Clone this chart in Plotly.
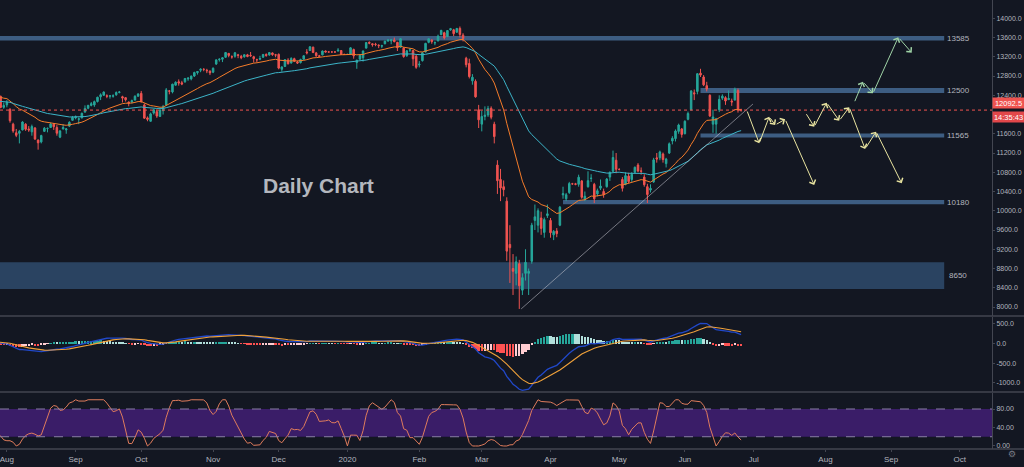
import pandas as pd
import plotly.graph_objects as go

# GER30 daily candles, one per weekday, 29 Jul 2019 .. 25 Jun 2020
opens = [
    12420, 12380, 12150,
    # Aug 2019
    12200, 12110, 11800, 11620, 11610, 11680, 11800, 11700, 11640, 11720, 11470,
    11430, 11650, 11710, 11730, 11800, 11730, 11530, 11700, 11680, 11760, 11880,
    # Sep
    11930, 11900, 11930, 12050, 12130, 12190, 12200, 12270, 12370, 12400, 12390,
    12380, 12380, 12410, 12460, 12370, 12350, 12260, 12260, 12300, 12380,
    # Oct
    12440, 12200, 11930, 11860, 12030, 12060, 11960, 12080, 12200, 12490, 12470,
    12610, 12680, 12660, 12680, 12740, 12740, 12800, 12870, 12920, 12940, 12920, 12900,
    # Nov
    12880, 13050, 13140, 13150, 13190, 13270, 13200, 13210, 13240, 13210, 13200,
    13240, 13230, 13200, 13140, 13150, 13190, 13250, 13240, 13280, 13240,
    # Dec
    13250, 12940, 13000, 13130, 13070, 13160, 13090, 13080, 13150, 13300, 13330,
    13400, 13280, 13220, 13240, 13320, 13300, 13300, 13300, 13320, 13330, 13250,
    # Jan 2020
    13250, 13250, 13350, 13080, 13150, 13180, 13380, 13500, 13470, 13460, 13440,
    13420, 13470, 13530, 13530, 13550, 13500, 13400, 13380, 13220, 13340, 13330, 13210,
    # Feb
    13030, 13120, 13300, 13500, 13550, 13490, 13530, 13660, 13700, 13620, 13760,
    13760, 13710, 13790, 13650, 13170, 13060, 12700, 12690, 12100,
    # Mar
    11800, 11960, 11990, 12130, 11800, 10950, 10650, 10500, 10200, 9300, 8800,
    8700, 8900, 8350, 8700, 8700, 8950, 9800, 9700, 9850, 9550, 9900,
    # Apr
    9800, 9500, 9580, 9700, 10330, 10250, 10380, 10560, 10560, 10550, 10620,
    10240, 10500, 10670, 10550, 10350, 10470, 10400, 10500, 10700, 10820, 11050,
    # May
    10860, 10650, 10550, 10720, 10650, 10800, 10950, 10830, 10700, 10500, 10430,
    10600, 11100, 11100, 11180, 10980, 11200, 11450, 11500, 11650, 11700,
    # Jun
    11600, 11900, 12100, 12450, 12480, 12860, 12780, 12600, 12400, 11800, 11800,
    12100, 12340, 12350, 12310, 12280, 12300, 12500, 12095,
]
highs = [
    12440, 12390, 12250,
    12300, 12130, 11830, 11700, 11680, 11860, 11820, 11760, 11790, 11740, 11480,
    11580, 11740, 11730, 11830, 11820, 11780, 11680, 11800, 11720, 11860, 11970,
    11980, 11940, 12040, 12190, 12200, 12260, 12290, 12370, 12440, 12480, 12420,
    12400, 12420, 12480, 12490, 12390, 12360, 12270, 12310, 12400, 12440,
    12490, 12230, 11960, 12040, 12120, 12100, 12110, 12200, 12550, 12510, 12640,
    12690, 12730, 12700, 12760, 12780, 12810, 12890, 12900, 12960, 12960, 12950, 12920,
    12980, 13140, 13170, 13190, 13300, 13280, 13230, 13300, 13260, 13240, 13250,
    13260, 13300, 13220, 13160, 13220, 13260, 13270, 13300, 13290, 13260,
    13270, 13000, 13150, 13170, 13190, 13180, 13120, 13160, 13230, 13360, 13420,
    13410, 13300, 13240, 13330, 13330, 13310, 13305, 13310, 13380, 13340, 13260,
    13260, 13400, 13370, 13140, 13250, 13330, 13500, 13520, 13480, 13490, 13460,
    13450, 13530, 13560, 13560, 13600, 13510, 13590, 13400, 13340, 13380, 13340, 13250,
    13110, 13300, 13490, 13580, 13560, 13520, 13660, 13760, 13720, 13750, 13800,
    13780, 13800, 13830, 13690, 13200, 13160, 12840, 12730, 12200,
    12080, 12170, 12180, 12170, 11850, 11050, 10870, 10630, 10280, 9700, 9100,
    9050, 8980, 8700, 9200, 8800, 9750, 10130, 10050, 9980, 9860, 10130,
    9850, 9600, 9640, 10100, 10500, 10370, 10600, 10580, 10580, 10750, 10640,
    10400, 10820, 10760, 10580, 10460, 10650, 10460, 10680, 10820, 11250, 11200,
    10880, 10700, 10800, 10790, 10800, 10920, 10990, 10900, 10760, 10560, 10550,
    11100, 11200, 11250, 11210, 11100, 11420, 11550, 11690, 11810, 11720,
    11880, 12060, 12510, 12520, 12860, 12950, 12820, 12680, 12420, 12100, 11930,
    12400, 12420, 12380, 12500, 12330, 12560, 12540, 12120,
]
lows = [
    12360, 12130, 12120,
    12150, 11830, 11620, 11530, 11400, 11670, 11660, 11640, 11560, 11470, 11270,
    11400, 11640, 11630, 11720, 11680, 11560, 11510, 11690, 11600, 11740, 11870,
    11900, 11800, 11920, 12040, 12110, 12170, 12160, 12250, 12300, 12390, 12340,
    12330, 12350, 12390, 12440, 12250, 12270, 12170, 12230, 12290, 12370,
    12250, 11910, 11860, 11850, 12000, 11930, 11950, 12000, 12190, 12420, 12440,
    12600, 12600, 12610, 12660, 12700, 12710, 12780, 12830, 12880, 12900, 12860, 12820,
    12860, 13030, 13100, 13090, 13180, 13190, 13160, 13180, 13170, 13150, 13180,
    13190, 13200, 13080, 13080, 13130, 13180, 13200, 13220, 13220, 13190,
    12940, 12890, 12990, 13040, 13060, 13090, 13050, 13060, 13140, 13250, 13320,
    13280, 13200, 13190, 13230, 13290, 13290, 13295, 13290, 13310, 13240, 13240,
    13240, 13240, 13160, 12950, 13140, 13100, 13370, 13460, 13410, 13420, 13380,
    13380, 13460, 13510, 13460, 13500, 13320, 13390, 13180, 13200, 13300, 13010, 12950,
    12980, 13100, 13290, 13480, 13470, 13440, 13520, 13650, 13560, 13610, 13740,
    13630, 13700, 13600, 13520, 12980, 12750, 12620, 12350, 11720,
    11650, 11880, 11950, 11900, 11400, 10350, 10200, 10300, 8960, 8500, 8250,
    8450, 7960, 8250, 8550, 8250, 8900, 9600, 9550, 9500, 9440, 9850,
    9440, 9390, 9450, 9680, 10250, 10200, 10350, 10540, 10530, 10500, 10250,
    10200, 10480, 10600, 10160, 10300, 10430, 10270, 10480, 10620, 10800, 10780,
    10840, 10400, 10530, 10570, 10600, 10780, 10800, 10750, 10500, 10160, 10380,
    10580, 11000, 11050, 11000, 10900, 11180, 11380, 11440, 11600, 11520,
    11590, 11880, 12080, 12300, 12420, 12780, 12590, 12480, 11950, 11620, 11600,
    12050, 12300, 12200, 12300, 12180, 12290, 12040, 12060,
]
closes = [
    12386, 12147, 12189,
    12253, 11872, 11658, 11568, 11650, 11845, 11694, 11679, 11750, 11492, 11412,
    11563, 11715, 11712, 11802, 11747, 11612, 11658, 11731, 11701, 11838, 11939,
    11953, 11910, 12025, 12126, 12191, 12226, 12268, 12359, 12410, 12468, 12380,
    12389, 12389, 12457, 12468, 12342, 12307, 12234, 12288, 12380, 12428,
    12263, 11925, 11900, 12013, 12097, 11970, 12094, 12164, 12512, 12486, 12630,
    12670, 12654, 12633, 12748, 12754, 12798, 12872, 12894, 12941, 12939, 12910, 12867,
    12961, 13136, 13148, 13179, 13289, 13228, 13198, 13283, 13230, 13180, 13242,
    13207, 13221, 13161, 13137, 13164, 13247, 13227, 13287, 13245, 13236,
    12965, 12989, 13140, 13055, 13166, 13105, 13071, 13141, 13221, 13282, 13407,
    13287, 13222, 13211, 13319, 13300, 13300, 13300, 13300, 13337, 13249, 13249,
    13250, 13386, 13219, 13127, 13227, 13320, 13495, 13483, 13452, 13456, 13432,
    13430, 13526, 13549, 13555, 13515, 13389, 13577, 13205, 13324, 13345, 13158, 12982,
    13046, 13282, 13479, 13575, 13514, 13494, 13628, 13749, 13595, 13745, 13784,
    13681, 13789, 13665, 13579, 13035, 12790, 12775, 12367, 11890,
    11960, 11986, 12127, 11944, 11542, 10625, 10475, 10439, 9161, 9232, 8742,
    8939, 8442, 8610, 8929, 8741, 9701, 9874, 10001, 9633, 9816, 9936,
    9544, 9571, 9525, 10075, 10356, 10333, 10565, 10560, 10550, 10697, 10280,
    10302, 10626, 10676, 10250, 10416, 10514, 10336, 10659, 10796, 11107, 10862,
    10860, 10467, 10730, 10606, 10759, 10904, 10825, 10820, 10542, 10337, 10465,
    11058, 11075, 11223, 11065, 11074, 11391, 11505, 11657, 11782, 11586,
    11860, 12021, 12487, 12431, 12848, 12820, 12617, 12530, 11970, 11949, 11911,
    12315, 12382, 12281, 12331, 12262, 12523, 12093, 12092.5,
]
# Jun-Jul 2019 closes, only used to warm up the indicators
warmup_closes = [
    11971, 12090, 12009, 12060, 12046, 12046, 12156, 12115, 12169, 12096,
    12086, 12332, 12309, 12355, 12340, 12275, 12228, 12245, 12271, 12399,
    12521, 12574, 12616, 12629, 12568, 12543, 12436, 12373, 12332, 12323,
    12387, 12430, 12342, 12227, 12260, 12289, 12490, 12522, 12362, 12419,
]
last_price = 12092.5

# support / resistance zones (bar numbers, price)
zone_levels = [13585, 12500, 11565, 10180, 8650]
zone_half = [48, 52, 42, 42, 278]
zone_from = [0, 227, 227, 183, 0]
zone_to = 303

# trend line under the rebound
trend_x = [167.6, 241.8]
trend_y = [7960, 12219]

# projected paths drawn on the chart
path1_x = [239.8, 243.8, 247.0, 248.9, 252.1, 261.4]
path1_y = [12094, 11402, 11955, 11783, 11901, 10536]
path2_x = [258.6, 261.4, 265.4, 269.4, 272.6, 277.7, 281.2, 289.4]
path2_y = [12038, 11747, 12246, 11872, 12150, 11284, 11643, 10571]
path3_x = [274.2, 277.0, 280.2, 288.3, 292.6]
path3_y = [12246, 12682, 12441, 13605, 13285]

BG = "#131722"
TXT = "#b2b5be"
LINE = "#434651"
FONT = "Liberation Sans"

n = len(closes)
bars = list(range(n))
days = pd.bdate_range("2019-07-29", "2020-10-30")
months = pd.date_range("2019-08-01", "2020-10-01", freq="MS")
tick_pos = [int(days.searchsorted(m)) for m in months]
tick_txt = ["2020" if m.month == 1 else m.strftime("%b") for m in months]

s = pd.Series(warmup_closes + closes, dtype=float)
ema20 = s.ewm(span=20, adjust=False).mean().iloc[-n:].tolist()
ema50 = s.ewm(span=50, adjust=False).mean().iloc[-n:].tolist()
macd = s.ewm(span=12, adjust=False).mean() - s.ewm(span=26, adjust=False).mean()
signal = macd.ewm(span=9, adjust=False).mean()
hist = (macd - signal).iloc[-n:].tolist()
macd = macd.iloc[-n:].tolist()
signal = signal.iloc[-n:].tolist()

hist_colors = []
for i, h in enumerate(hist):
    prev = hist[i - 1] if i else h
    if h >= 0:
        hist_colors.append("#26a69a" if h > prev else "#b2dfdb")
    else:
        hist_colors.append("#ffcdd2" if h > prev else "#ff5252")

d = s.diff()
up = d.clip(lower=0).ewm(alpha=1 / 14, adjust=False).mean()
dn = (-d.clip(upper=0)).ewm(alpha=1 / 14, adjust=False).mean()
rsi = 100 - 100 / (1 + up / dn)
lo = rsi.rolling(14).min()
hi = rsi.rolling(14).max()
stoch_k = ((rsi - lo) / (hi - lo) * 100).rolling(3).mean().iloc[-n:].tolist()

fig = go.Figure()
fig.add_trace(go.Candlestick(
    x=bars, open=opens, high=highs, low=lows, close=closes,
    increasing=dict(line=dict(color="#26a69a", width=1), fillcolor="#26a69a"),
    decreasing=dict(line=dict(color="#ef5350", width=1), fillcolor="#ef5350"),
    whiskerwidth=0, xaxis="x", yaxis="y", showlegend=False,
))
fig.add_trace(go.Scatter(x=bars, y=ema20, mode="lines", line=dict(color="#f57c2a", width=1),
                         xaxis="x", yaxis="y", showlegend=False))
fig.add_trace(go.Scatter(x=bars, y=ema50, mode="lines", line=dict(color="#3cb4c8", width=1),
                         xaxis="x", yaxis="y", showlegend=False))
fig.add_trace(go.Scatter(x=trend_x, y=trend_y, mode="lines",
                         line=dict(color="rgba(200,200,210,0.55)", width=1),
                         xaxis="x", yaxis="y", showlegend=False))

# MACD pane
fig.add_trace(go.Bar(x=bars, y=hist, marker_color=hist_colors, marker_line_width=0, width=0.75,
                     xaxis="x2", yaxis="y2", showlegend=False))
fig.add_trace(go.Scatter(x=bars, y=macd, mode="lines", line=dict(color="#2148c9", width=1.3),
                         xaxis="x2", yaxis="y2", showlegend=False))
fig.add_trace(go.Scatter(x=bars, y=signal, mode="lines", line=dict(color="#f0a13a", width=1.1),
                         xaxis="x2", yaxis="y2", showlegend=False))

# Stoch RSI pane
fig.add_trace(go.Scatter(x=bars, y=stoch_k, mode="lines", line=dict(color="#e07c5c", width=1),
                         xaxis="x3", yaxis="y3", showlegend=False))

shapes = []
for lvl, half, x0 in zip(zone_levels, zone_half, zone_from):
    big = half > 100
    shapes.append(dict(type="rect", xref="x", yref="y", x0=x0 - 2, x1=zone_to,
                       y0=lvl - half, y1=lvl + half, layer="below",
                       fillcolor="rgba(72,122,176,0.45)" if big else "rgba(90,140,195,0.6)",
                       line=dict(width=0)))
shapes.append(dict(type="line", xref="paper", yref="y", x0=0, x1=1, y0=last_price, y1=last_price,
                   line=dict(color="#ef5350", width=1, dash="dot")))
shapes.append(dict(type="rect", xref="paper", yref="y3", x0=0, x1=1, y0=20, y1=80, layer="below",
                   fillcolor="rgb(58,29,104)", line=dict(width=0)))
for lv in (20, 80):
    shapes.append(dict(type="line", xref="paper", yref="y3", x0=0, x1=1, y0=lv, y1=lv,
                       line=dict(color="#8a7fa6", width=1, dash="dash")))
for yp in (0.2962, 0.1270, 0.0):
    shapes.append(dict(type="line", xref="paper", yref="paper", x0=0, x1=1.033, y0=yp, y1=yp,
                       line=dict(color=LINE, width=1.5)))

annotations = []
for lvl in zone_levels:
    annotations.append(dict(x=307.5, y=lvl, xref="x", yref="y", text=str(lvl), showarrow=False,
                            font=dict(family=FONT, size=8, color=TXT), xanchor="center"))
annotations.append(dict(x=102.6, y=10515, xref="x", yref="y", text="<b>Daily Chart</b>",
                        showarrow=False, font=dict(family=FONT, size=21, color="#b4b7be")))
for xs, ys, col in [(path1_x, path1_y, "#e9e4a0"), (path2_x, path2_y, "#e9e4a0"),
                    (path3_x, path3_y, "#9fd3a6")]:
    for i in range(1, len(xs)):
        annotations.append(dict(x=xs[i], y=ys[i], ax=xs[i - 1], ay=ys[i - 1],
                                xref="x", yref="y", axref="x", ayref="y", text="",
                                showarrow=True, arrowhead=4, arrowsize=1.3, arrowwidth=1,
                                arrowcolor=col))
# last price tag and bar countdown on the price scale
annotations.append(dict(x=1.0, y=last_price, xref="paper", yref="y", text="12092.5", yshift=1,
                        showarrow=False, xanchor="left", yanchor="bottom", width=31, height=10,
                        borderpad=0, bgcolor="#ef5350", font=dict(family=FONT, size=7.5, color="white")))
annotations.append(dict(x=1.0, y=last_price, xref="paper", yref="y", text="14:35:43", yshift=-1,
                        showarrow=False, xanchor="left", yanchor="top", width=31, height=10,
                        borderpad=0, bgcolor="#e2474a", font=dict(family=FONT, size=7.5, color="white")))
annotations.append(dict(x=1.026, y=-0.027, xref="paper", yref="paper", text="⚙", showarrow=False,
                        font=dict(family="DejaVu Sans", size=9, color="#787b86")))

xrange = [0.8, 318.3]
xcommon = dict(range=xrange, showgrid=False, zeroline=False, showline=False, automargin=False)
ycommon = dict(side="right", showgrid=False, zeroline=False, showline=True, linecolor=LINE,
               ticks="outside", ticklen=2, tickcolor=LINE, automargin=False,
               ticklabeloverflow="allow",
               tickfont=dict(family=FONT, size=7, color=TXT))

# 12000 is hidden behind the last price tag
main_ticks = [v for v in range(8000, 14001, 400) if v != 12000]

fig.update_layout(
    width=1024, height=467,
    margin=dict(l=0, r=32, t=0, b=18),
    paper_bgcolor=BG, plot_bgcolor=BG,
    showlegend=False, bargap=0,
    xaxis=dict(domain=[0, 1], anchor="y", showticklabels=False, rangeslider=dict(visible=False),
               **xcommon),
    xaxis2=dict(domain=[0, 1], anchor="y2", matches="x", showticklabels=False, **xcommon),
    xaxis3=dict(domain=[0, 1], anchor="y3", matches="x", tickvals=tick_pos, ticktext=tick_txt,
                ticks="outside", ticklen=2, tickcolor=LINE, ticklabeloverflow="allow",
                tickfont=dict(family=FONT, size=8, color=TXT), **xcommon),
    yaxis=dict(domain=[0.2962, 1], anchor="x", range=[7813, 14380], tickvals=main_ticks,
               ticktext=[f"{v:.1f}" for v in main_ticks], **ycommon),
    yaxis2=dict(domain=[0.1270, 0.2940], anchor="x2", range=[-1238, 679],
                tickvals=[500, 0, -500, -1000], ticktext=["500.0", "0.0", "-500.0", "-1000.0"],
                **ycommon),
    yaxis3=dict(domain=[0, 0.1247], anchor="x3", range=[-6.5, 114.6],
                tickvals=[80, 40, 0], ticktext=["80.00", "40.00", "0.00"], **ycommon),
    shapes=shapes,
    annotations=annotations,
)

# the page should start at the very top-left corner, like the screenshot
fig.write_html("out.html", config={"displayModeBar": False},
               post_script="document.body.style.margin = '0';")
